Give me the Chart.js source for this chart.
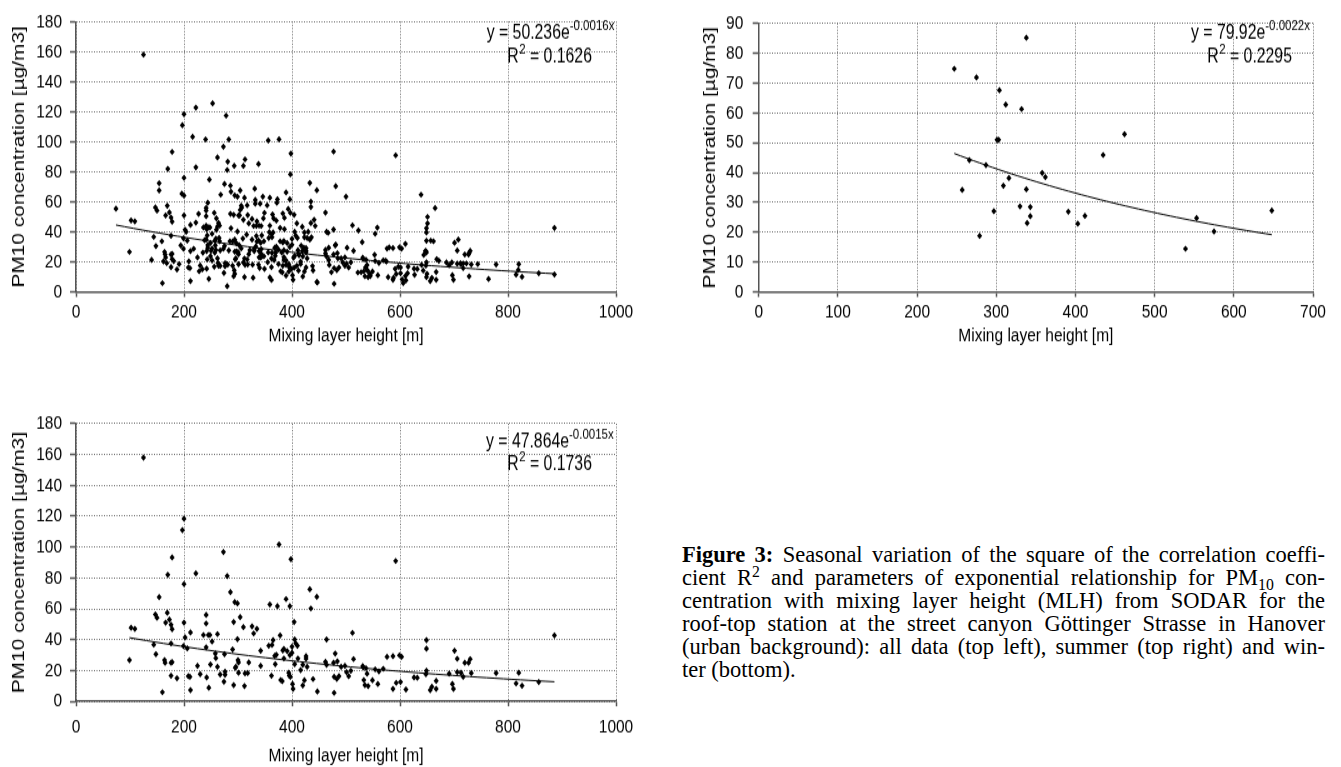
<!DOCTYPE html>
<html lang="en">
<head>
<meta charset="UTF-8">
<title>PM10 and mixing layer height</title>
<script src="https://cdn.jsdelivr.net/npm/chart.js"></script>
<style>
  body {
    margin: 0;
    background: #fff;
    width: 1341px;
    height: 767px;
    position: relative;
    overflow: hidden;
  }
  /* the chart bitmaps are stretched vertically */
  .wrap {
    position: absolute;
    transform: scaleY(1.25);
    transform-origin: 0 0;
  }
  .caption {
    position: absolute;
    left: 682px;
    top: 543px;
    width: 643px;
    font-family: 'Liberation Serif', 'Times New Roman', serif;
    font-size: 22.5px;
    line-height: 23px;
    color: #000;
  }
  .caption div {
    white-space: nowrap;
    text-align: justify;
    text-align-last: justify;
  }
  .caption div.last { text-align-last: left; }
  .caption sup { font-size: 0.7em; line-height: 0; vertical-align: 0.5em; }
  .caption sub { font-size: 0.7em; line-height: 0; vertical-align: -0.3em; }
</style>
</head>
<body>

<div class="wrap" style="left:0;top:0"><canvas id="allChart" width="650" height="280"></canvas></div>
<div class="wrap" style="left:680px;top:0"><canvas id="summerChart" width="661" height="280"></canvas></div>
<div class="wrap" style="left:0;top:400px"><canvas id="winterChart" width="650" height="294"></canvas></div>

<div class="caption">
  <div><b>Figure 3:</b> Seasonal variation of the square of the correlation coeffi-</div>
  <div>cient R<sup>2</sup> and parameters of exponential relationship for PM<sub>10</sub> con-</div>
  <div>centration with mixing layer height (MLH) from SODAR for the</div>
  <div>roof-top station at the street canyon Göttinger Strasse in Hanover</div>
  <div>(urban background): all data (top left), summer (top right) and win-</div>
  <div class="last">ter (bottom).</div>
</div>

<script>
  // [mixing layer height (m), PM10 (µg/m3)]
  const winter = [
    [99,26.7],[102,47.7],[109,47],[125,158],[144,36.7],[148,30.6],[154,67.6],[147,56.3],[150,54.2],[160,5.9],
    [164,26.7],[165,25],[170,82],[178,93.3],[169,57.4],[166,51],[173,53],[176,49.6],[178,46.8],[176,37.5],
    [176,25],[178,25.4],[176,16.6],[187,15],[200,118.4],[197,111],[200,76],[200,51],[199,35.8],[202,41.4],
    [206,34.3],[212,44.7],[222,83],[208,16.3],[211,15.9],[212,7.3],[225,23],[230,17.6],[236,43],[241,50.5],
    [241,56],[241,35],[242,15.5],[245,43],[248,43],[249,23.9],[252,38.8],[246,8.8],[258,31],[259,28],
    [262,43.6],[262,22.4],[267,17.4],[274,12.7],[273,96.8],[276,19.2],[276,17.2],[275,30.6],[280,81.2],[286,70.8],
    [290,33.6],[292,51.4],[294,64.3],[299,63.5],[299,40.3],[296,22.4],[295,21.7],[300,26.7],[301,25.2],[304,54.6],
    [310,48.1],[301,18.5],[292,10.5],[312,9.9],[313,18.1],[318,18.3],[320,25.2],[326,48.6],[329,44],[335,47],
    [342,23],[342,32.8],[359,62.8],[357,36],[362,16.6],[363,36.5],[365,39.7],[368,29.5],[369,24.1],[371,30.2],
    [373,61.7],[378,42.7],[376,101.7],[379,13.8],[382,13.1],[383,33],[385,33.9],[385,27.8],[389,66.3],[391,32.6],
    [394,18.5],[395,16.6],[396,30],[397,15.9],[398,92.2],[396,61.7],[400,35.4],[400,31.5],[401,11.2],[402,8.1],
    [404,51.4],[405,40.1],[407,37.5],[410,36],[411,27.8],[405,24.1],[416,20.2],[420,23.7],[420,10.3],[423,13.7],
    [426,29.3],[426,27.6],[428,22.4],[433,72.6],[435,60.2],[446,67.8],[439,14.4],[447,6.4],[464,40.1],[462,25.6],
    [464,23.7],[477,25],[480,31],[484,25.9],[478,15.9],[487,16.3],[483,14.6],[478,5.5],[491,22.4],[498,23],
    [501,18.9],[505,16.3],[509,19.8],[512,44.4],[514,27.4],[531,22.8],[533,13.8],[532,22],[537,21.5],[539,17.9],
    [541,9.9],[535,10.5],[549,13.7],[554,20.7],[561,19.4],[559,11.2],[569,21.1],[576,28.9],[587,29.3],[587,8.1],
    [592,91],[593,12],[599,29.8],[603,28.9],[601,12.5],[611,7.7],[626,15.5],[632,15.3],[648,17.6],[649,19.8],
    [649,39.7],[649,34.1],[656,7.3],[659,9.4],[667,13.3],[667,8.1],[691,17.9],[697,11.2],[699,8.1],[701,32.8],
    [706,27.6],[706,18.9],[713,18.5],[717,15.9],[720,25],[727,25],[730,27.4],[732,18.3],[778,18.3],[815,11.6],
    [820,18.5],[826,10.1],[857,12.5],[886,42.7]
  ];

  const summer = [
    [247,74.8],[257,34.2],[266,44.2],[275,71.9],[279,18.8],[287,42.5],[297,27.1],[301,51],[303,51],[304,67.6],
    [309,35.6],[312,62.8],[316,38.2],[330,28.7],[332,61.3],[338,85.2],[338,34.4],[343,28.5],[343,25.4],[339,23.1],
    [358,39.9],[362,38.5],[391,26.9],[403,22.9],[412,25.5],[435,45.9],[462,52.9],[539,14.5],[553,24.8],[575,20.3],
    [648,27.3]
  ];

  const springAutumn = [
    [74,55.5],[216,103.3],[222,122.8],[240,101.6],[253,125.6],[278,117.4],[283,101.6],[262,89.6],[281,86.8],[293,84],
    [313,88.3],[310,84],[356,100.9],[397,78.3],[477,93.5],[154,72.4],[196,65.5],[200,64.2],[268,64.8],[287,66.8],
    [331,68.8],[346,63.5],[332,58.8],[306,57.5],[307,56.2],[244,59.4],[227,52],[241,54.2],[256,52.7],[260,49],
    [264,46],[286,52],[317,57.7],[318,51.2],[341,58.8],[354,57.7],[372,59.4],[349,52.7],[347,49],[320,45.7],
    [334,44],[339,44.2],[343,44],[364,51.6],[366,49],[359,44.2],[371,47.5],[383,52.3],[386,49.4],[393,55.3],
    [397,52.7],[409,45.7],[159,33.8],[140,21.4],[166,23],[178,21.9],[162,20.4],[168,19.3],[181,20.6],[191,18.6],
    [204,40.1],[194,31],[199,28.8],[222,46.2],[212,27.3],[218,28.8],[209,20.4],[238,34.5],[241,44.2],[242,41.8],
    [243,37.7],[244,31.2],[244,29.5],[249,32.7],[235,26.2],[242,27.3],[259,35.5],[265,36],[266,33.8],[260,41.4],
    [250,27.5],[252,29],[257,26.2],[267,27.7],[243,21.7],[252,21],[256,16.9],[264,17.5],[263,19.3],[228,13.8],
    [234,15.1],[273,28.8],[281,18.2],[280,3.9],[290,17.5],[293,14.5],[294,12.1],[285,33.8],[294,34.9],[297,32.5],
    [302,31.2],[306,29],[283,27.7],[294,26.9],[328,9.5],[312,22.3],[317,21.7],[310,19.7],[327,18.2],[322,27.9],
    [330,27.3],[333,30.3],[334,37.3],[344,37.7],[326,34.9],[335,33.6],[348,33.8],[339,27.3],[344,23.6],[348,23.8],
    [338,18.2],[340,16],[349,15.4],[359,9.7],[362,8],[355,19.9],[362,22.3],[367,21.2],[356,26.4],[363,26],
    [370,26.4],[378,33.8],[375,28.2],[381,26.4],[385,23.2],[385,21.2],[389,21],[375,18.6],[383,17.5],[389,18],
    [389,11],[394,13.6],[399,15.4],[386,41.8],[413,24.5],[409,17.5],[404,16.2],[412,14.3],[481,70.5],[435,56.6],
    [500,63.5],[441,48.1],[443,44],[430,40.1],[423,36.4],[428,36],[433,34.9],[436,36.4],[419,43.4],[423,39.7],
    [417,30.8],[422,29.5],[426,26.4],[419,27.3],[416,18.6],[426,16.4],[438,17.3],[446,6.7],[467,39.4],[477,41.6],
    [462,28],[468,29.5],[468,21.4],[469,18],[473,13.2],[481,31.6],[485,22.5],[502,29.5],[494,19.7],[498,17.5],
    [523,41],[530,33.2],[522,13],[528,13.2],[536,16.4],[540,14.3],[544,12.1],[545,10.6],[554,38.8],[558,42.9],
    [573,20.8],[578,9.9],[588,9.5],[580,29.7],[591,15.4],[597,16.9],[601,16.4],[604,8.4],[606,6],[610,32.1],
    [610,10.6],[615,16.9],[614,12.5],[627,11.5],[639,64.8],[651,50],[651,45.7],[649,42.5],[647,27.3],[649,26.4],
    [644,24.7],[665,55.9],[657,34.2],[662,33.8],[668,21.9],[672,20.8],[640,18],[643,14.3],[650,12.1],[649,9.9],
    [686,19.7],[696,19.7],[708,34.9],[717,19],[723,19],[728,10.4],[728,26],[712,19.1],[744,18.6],[764,8.7],
    [819,14.7],[886,11.7]
  ];

  const allData = winter.concat(summer, springAutumn);

  // exponential fits y = a * e^(b*x) as printed on each panel
  const fitAll = ['50.236', '-0.0016', '0.1626'];
  const fitSummer = ['79.92', '-0.0022', '0.2295'];
  const fitWinter = ['47.864', '-0.0015', '0.1736'];

  const xTitle = 'Mixing layer height [m]';
  const yTitle = 'PM10 concentration [µg/m3]';

  const FONT = '"Liberation Sans", Arial, sans-serif';
  Chart.defaults.font.family = FONT;
  Chart.defaults.color = '#000';

  // curve through the fitted equation, over the x-range of the data
  function trendPoints(pts, fit) {
    const a = parseFloat(fit[0]), b = parseFloat(fit[1]);
    const xs = pts.map(p => p[0]);
    const x0 = Math.min(...xs), x1 = Math.max(...xs);
    const out = [];
    for (let i = 0; i <= 50; i++) {
      const x = x0 + (x1 - x0) * i / 50;
      out.push({ x: x, y: a * Math.exp(b * x) });
    }
    return out;
  }

  // equation and R² text in the upper right corner
  const eqLabel = {
    id: 'eqLabel',
    afterDatasetsDraw(chart, args, o) {
      const ctx = chart.ctx;
      const big = '15.8px ' + FONT, small = '11.5px ' + FONT;
      ctx.save();
      ctx.fillStyle = '#000';
      ctx.textBaseline = 'middle';
      ctx.textAlign = 'left';
      ctx.font = big;
      const s = 'y = ' + o.fit[0] + 'e';
      ctx.fillText(s, o.x, o.y1);
      let w = ctx.measureText(s).width;
      ctx.font = small;
      ctx.fillText(o.fit[1] + 'x', o.x + w, o.y1 - 5.3);
      ctx.font = big;
      ctx.fillText('R', o.rx, o.y2);
      w = ctx.measureText('R').width;
      ctx.font = small;
      ctx.fillText('2', o.rx + w + 0.5, o.y2 - 5.3);
      const w2 = ctx.measureText('2').width;
      ctx.font = big;
      ctx.fillText(' = ' + o.fit[2], o.rx + w + w2 + 0.5, o.y2);
      ctx.restore();
    }
  };

  function axis(min, max, step, title, o) {
    return {
      type: 'linear',
      min: min,
      max: max,
      afterFit: o.fit,
      ticks: {
        stepSize: step, padding: o.tickPad, font: { size: 15.5 }, maxRotation: 0, color: '#000',
        callback: v => String(v)
      },
      grid: { color: '#6f6f6f', lineWidth: 1, tickLength: o.tickLen, tickColor: '#555', tickWidth: 1.5 },
      border: { color: '#555', width: 1.5, dash: [1, 1.5] },
      title: { display: true, text: title, color: '#000', font: { size: o.titleSize }, padding: o.titlePad }
    };
  }

  function drawPanel(id, pts, fit, c) {
    new Chart(document.getElementById(id), {
      type: 'scatter',
      data: {
        datasets: [
          {
            data: pts.map(p => ({ x: p[0], y: p[1] })),
            pointStyle: 'rectRot',
            pointRadius: 2.6,
            backgroundColor: '#000',
            borderColor: '#000',
            borderWidth: 0
          },
          {
            data: trendPoints(pts, fit),
            showLine: true,
            borderColor: '#000',
            borderWidth: 1,
            pointRadius: 0,
            tension: 0
          }
        ]
      },
      options: {
        responsive: false,
        animation: false,
        events: [],
        layout: { padding: c.pad },
        plugins: {
          legend: { display: false },
          tooltip: { enabled: false },
          eqLabel: Object.assign({ fit: fit }, c.eq)
        },
        scales: {
          x: axis(0, c.xMax, c.xStep, xTitle, {
            fit: s => { s.height = c.xH; }, tickPad: c.xTickPad, tickLen: 4,
            titleSize: 15.5, titlePad: { top: 0, bottom: c.xTitlePad }
          }),
          y: axis(0, c.yMax, c.yStep, yTitle, {
            fit: s => { s.width = c.yW; }, tickPad: c.yTickPad, tickLen: 6,
            titleSize: 16.7, titlePad: { top: c.yTitlePad, bottom: 0 }
          })
        }
      },
      plugins: [eqLabel]
    });
  }

  drawPanel('allChart', allData, fitAll, {
    pad: { left: 0, right: 34, top: 12.4, bottom: 0 },
    xMax: 1000, xStep: 200, yMax: 180, yStep: 20,
    xH: 46.4, xTickPad: 2.7, xTitlePad: 1.9,
    yW: 76, yTickPad: 8, yTitlePad: 9.5,
    eq: { x: 486.7, y1: 26.4, rx: 507.3, y2: 45.6 }
  });

  drawPanel('summerChart', summer, fitSummer, {
    pad: { left: 0, right: 28, top: 12.24, bottom: 0 },
    xMax: 700, xStep: 100, yMax: 90, yStep: 10,
    xH: 46.4, xTickPad: 2.7, xTitlePad: 1.9,
    yW: 78.7, yTickPad: 9.4, yTitlePad: 20.8,
    eq: { x: 511, y1: 26.4, rx: 527.3, y2: 45.6 }
  });

  drawPanel('winterChart', winter, fitWinter, {
    pad: { left: 0, right: 34, top: 18.96, bottom: 0 },
    xMax: 1000, xStep: 200, yMax: 180, yStep: 20,
    xH: 52.96, xTickPad: 7.3, xTitlePad: 0.3,
    yW: 76, yTickPad: 8, yTitlePad: 9.2,
    eq: { x: 486, y1: 33.4, rx: 507.3, y2: 51.4 }
  });
</script>

</body>
</html>
